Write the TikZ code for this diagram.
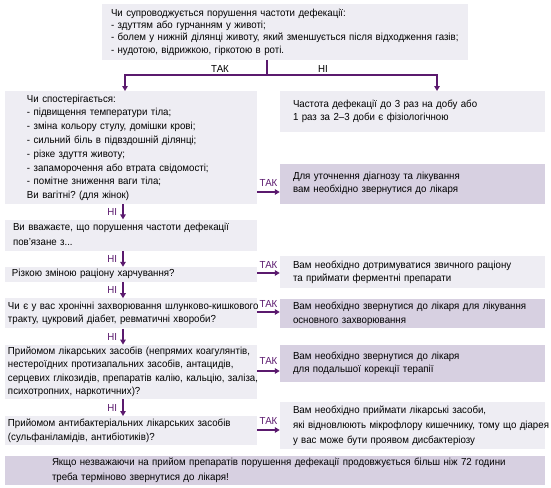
\documentclass[tikz,border=0pt]{standalone}
\usepackage{fontspec}
\setmainfont{Liberation Sans}[FakeStretch=0.95]
\usepackage{xcolor}
\definecolor{PaleLilac}{HTML}{EEEDF3}
\definecolor{SoftLilac}{HTML}{D7D0E1}
\definecolor{PlumInk}{HTML}{5B1A6E}
\usepackage{tikz}
\usetikzlibrary{positioning, arrows.meta, calc}
\frenchspacing
\newcommand{\txt}{\fontsize{10.2}{13.5}\selectfont}
% lines of a box, never rewrapped
\newcommand{\rows}[1]{\begin{tabular}{@{}l@{}}#1\end{tabular}}

\begin{document}
\begin{tikzpicture}[
    x=1pt, y=-1pt, node distance=16pt,
    box/.style={align=left, font=\txt, inner ysep=0pt, anchor=north},
    qbox/.style={box, fill=PaleLilac, minimum width=252pt},
    abox/.style={box, fill=PaleLilac, minimum width=265pt, text width=239pt, inner xsep=13pt},
    dbox/.style={abox, fill=SoftLilac},
    arr/.style={-{Triangle[length=5pt,width=5.5pt]}, line width=1.8pt, PlumInk},
    lab/.style={font=\txt, inner sep=1pt}
]
\useasboundingbox (0,0) rectangle (551,487);
% question column
\node[box, fill=PaleLilac, minimum width=366pt, text width=348pt, inner xsep=9pt, minimum height=56pt,
      font=\fontsize{10.2}{12.3}\selectfont] (q0) at (285,4)
  {\rows{Чи супроводжується порушення частоти дефекації:\\- здуттям або гурчанням у животі;\\- болем у нижній ділянці животу, який зменшується після відходження газів;\\- нудотою, відрижкою, гіркотою в роті.}};
\node[qbox, text width=208pt, inner xsep=22pt, minimum height=113pt, font=\fontsize{10.2}{13.8}\selectfont] (q1) at (131,91)
  {\rows{Чи спостерігається:\\- підвищення температури тіла;\\- зміна кольору стулу, домішки крові;\\- сильний біль в підвздошній ділянці;\\- різке здуття животу;\\- запаморочення або втрата свідомості;\\- помітне зниження ваги тіла;\\Ви вагітні? (для жінок)}};
\node[qbox, text width=236pt, inner xsep=8pt, minimum height=31pt, font=\fontsize{10.2}{15}\selectfont, below=15pt of q1] (q2)
  {\rows{Ви вважаєте, що порушення частоти дефекації\\пов’язане з...}};
\node[qbox, text width=238pt, inner xsep=7pt, minimum height=15pt, font=\fontsize{10.2}{11}\selectfont, below=of q2] (q3)
  {\rows{Різкою зміною раціону харчування?}};
\node[qbox, text width=246pt, inner xsep=3pt, minimum height=30pt, below=of q3] (q4)
  {\rows{Чи є у вас хронічні захворювання шлунково-кишкового\\тракту, цукровий діабет, ревматичні хвороби?}};
\node[qbox, text width=246pt, inner xsep=3pt, minimum height=54pt, below=of q4] (q5)
  {\rows{Прийомом лікарських засобів (непрямих коагулянтів,\\нестероїдних протизапальних засобів, антацидів,\\серцевих глікозидів, препаратів калію, кальцію, заліза,\\психотропних, наркотичних)?}};
\node[qbox, text width=246pt, inner xsep=3pt, minimum height=29pt, below=17pt of q5] (q6)
  {\rows{Прийомом антибактеріальних лікарських засобів\\(сульфаніламідів, антибіотиків)?}};
% answer column
\node[abox, minimum height=41pt, font=\fontsize{10.2}{12.7}\selectfont] (a0) at (412.5,91)
  {\rows{Частота дефекації до 3 раз на добу або\\1 раз за 2--3 доби є фізіологічною}};
\node[dbox, minimum height=40pt, font=\fontsize{10.2}{13}\selectfont, below=31pt of a0] (a1)
  {\rows{Для уточнення діагнозу та лікування\\вам необхідно звернутися до лікаря}};
\node[abox, minimum height=32pt, font=\fontsize{10.2}{13}\selectfont, below=52pt of a1] (a2)
  {\rows{Вам необхідно дотримуватися звичного раціону\\та приймати ферментні препарати}};
\node[dbox, minimum height=29pt, below=11pt of a2] (a3)
  {\rows{Вам необхідно звернутися до лікаря для лікування\\основного захворювання}};
\node[dbox, minimum height=37pt, below=of a3] (a4)
  {\rows{Вам необхідно звернутися до лікаря\\для подальшої корекції терапії}};
\node[abox, minimum height=47pt, font=\fontsize{10.2}{15}\selectfont, below=20pt of a4] (a5)
  {\rows{Вам необхідно приймати лікарські засоби,\\які відновлюють мікрофлору кишечнику, тому що діарея\\у вас може бути проявом дисбактеріозу}};
% warning
\node[box, fill=SoftLilac, anchor=north west, minimum width=540pt, text width=446pt, inner xsep=47pt, minimum height=29pt,
      font=\fontsize{10.2}{14.5}\selectfont] (note) at ([yshift=-10pt]q6.south west)
  {\rows{Якщо незважаючи на прийом препаратів порушення дефекації продовжується більш ніж 72 години\\треба терміново звернутися до лікаря!}};
% connectors
\coordinate (fork) at (267,75);
\coordinate (spine) at (123,0);
\draw[arr] (q0.south -| fork) -- (fork) -| ([xshift=-6pt]q1.north);
\draw[arr] (fork) -| ([xshift=24.5pt]a0.north);
\node[lab] (yes0) at (220,69) {ТАК};
\node[lab] (no0) at (323,69) {НІ};
\draw[arr] (q1.south -| spine) -- node[lab, left=4pt] {НІ} (q2.north -| spine);
\draw[arr] (q2.south -| spine) -- node[lab, left=4pt] {НІ} (q3.north -| spine);
\draw[arr] (q3.south -| spine) -- node[lab, left=4pt] {НІ} (q4.north -| spine);
\draw[arr] (q4.south -| spine) -- node[lab, left=4pt] {НІ} (q5.north -| spine);
\draw[arr] (q5.south -| spine) -- node[lab, left=4pt] {НІ} (q6.north -| spine);
\draw[arr] (q1.east |- 0,192) -- node[lab, above=4pt] {ТАК} (a1.west |- 0,192);
\draw[arr] (q3.east |- 0,273) -- node[lab, above=3pt] {ТАК} (a2.west |- 0,273);
\draw[arr] (q4.east |- 0,312) -- node[lab, above=3pt] {ТАК} (a3.west |- 0,312);
\draw[arr] (q5.east |- 0,371) -- node[lab, above=5pt] {ТАК} (a4.west |- 0,371);
\draw[arr] (q6.east |- 0,430) -- node[lab, above=4pt] {ТАК} (a5.west |- 0,430);
\end{tikzpicture}
\end{document}
